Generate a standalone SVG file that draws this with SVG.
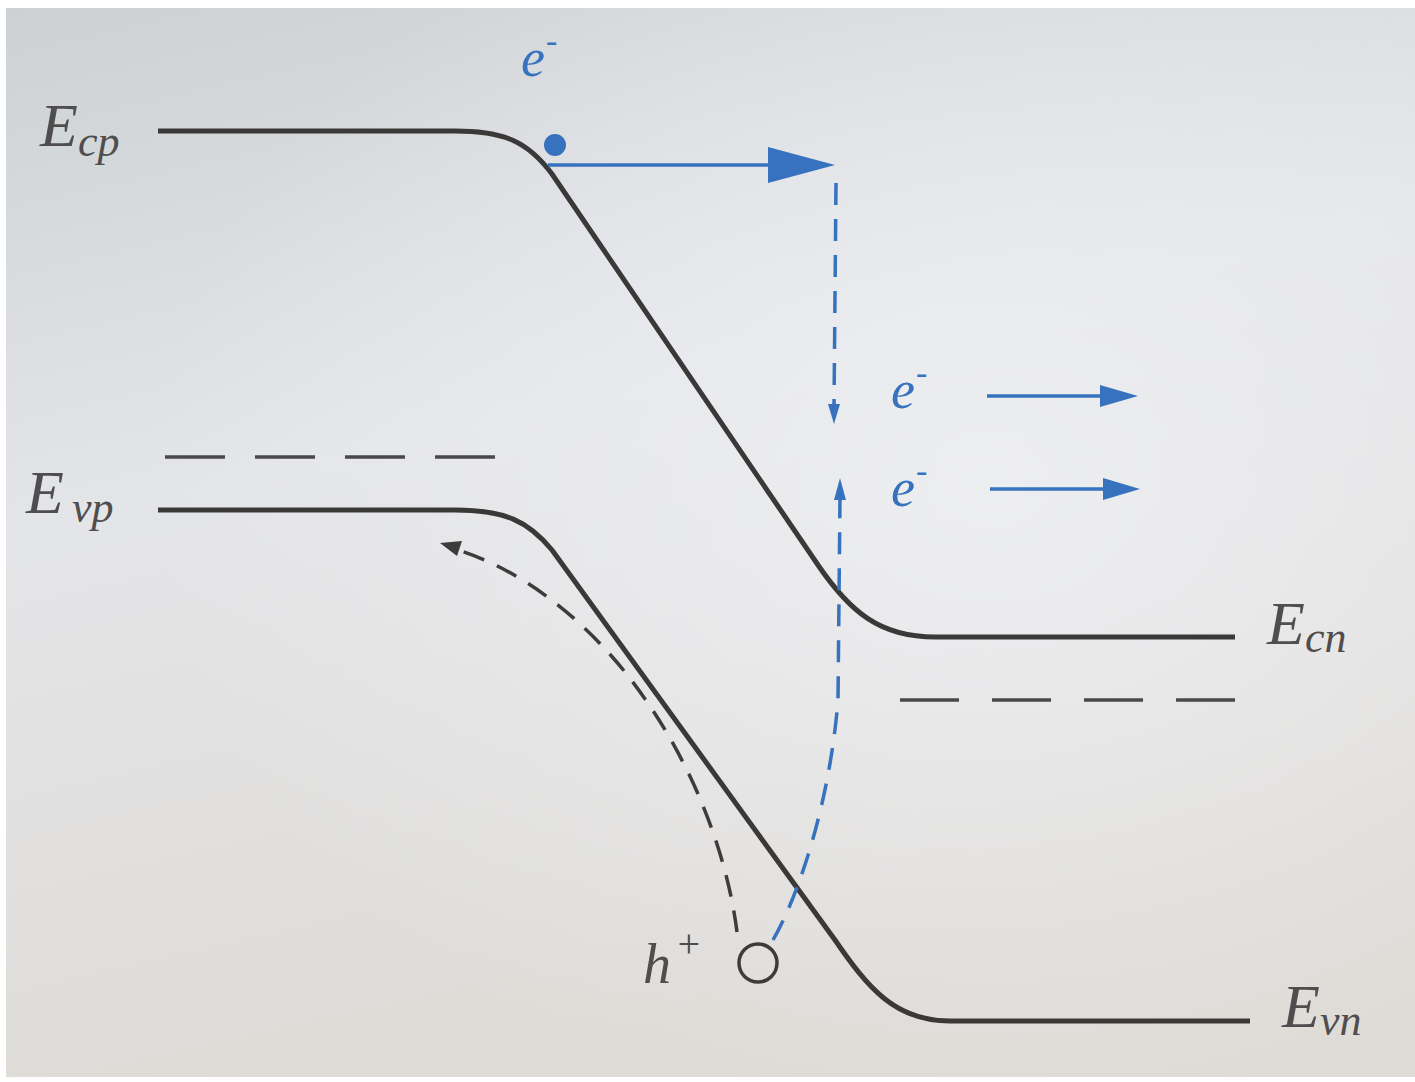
<svg xmlns="http://www.w3.org/2000/svg" width="1415" height="1082" viewBox="0 0 1415 1082">
<style>
.band{fill:none;stroke:#3b3838;stroke-width:5;stroke-linecap:butt}
.ref{fill:none;stroke:#4a4848;stroke-width:3.5}
.bl{fill:none;stroke:#3672bd;stroke-width:3.5}
.bld{fill:none;stroke:#3672bd;stroke-width:3.5;stroke-dasharray:22 14}
.kd{fill:none;stroke:#3d3b3b;stroke-width:3.5;stroke-dasharray:22 14}
text{font-family:"Liberation Serif","DejaVu Serif",serif;font-style:italic}
.lbl{fill:#4f4d4d}
.blt{fill:#3672bd}
.bf{fill:#3672bd}
</style>
<defs>
<linearGradient id="bg" x1="0" y1="0" x2="0.3" y2="1">
<stop offset="0" stop-color="#cdd1d4"/>
<stop offset="0.45" stop-color="#e4e5e8"/>
<stop offset="1" stop-color="#dedbd6"/>
</linearGradient>
<radialGradient id="glow" cx="0.7" cy="0.45" r="0.6">
<stop offset="0" stop-color="#eeeff2" stop-opacity="0.9"/>
<stop offset="1" stop-color="#eeeff2" stop-opacity="0"/>
</radialGradient>
</defs>
<rect width="1415" height="1082" fill="#ffffff"/>
<rect x="6" y="8" width="1409" height="1069" fill="url(#bg)"/>
<rect x="6" y="8" width="1409" height="1069" fill="url(#glow)"/>

<g id="Ecp">
<path class="band" d="M158,131 H455 C505,131 528,142 552,174 L818,565 C850,612 880,637 935,637 H1235"/>
<text class="lbl" x="40" y="146" font-size="62">E<tspan font-size="44" dy="10">cp</tspan></text>
</g>
<g id="Ecn">
<text class="lbl" x="1267" y="644" font-size="62">E<tspan font-size="44" dy="8">cn</tspan></text>
</g>
<g id="Evp">
<path class="band" d="M158,510 H455 C505,510 528,521 552,550 L835,940 C868,988 895,1021 950,1021 H1250"/>
<text class="lbl" x="26" y="513" font-size="62">E<tspan font-size="44" dx="8" dy="9">vp</tspan></text>
</g>
<g id="Evn">
<text class="lbl" x="1282" y="1027" font-size="62">E<tspan font-size="44" dy="8">vn</tspan></text>
</g>
<g id="fermi-p">
<path class="ref" d="M165,457 H495" stroke-dasharray="60 30"/>
</g>
<g id="fermi-n">
<path class="ref" d="M900,700 H1235" stroke-dasharray="59 33"/>
</g>
<g id="electron-in">
<circle class="bf" cx="555" cy="145" r="11"/>
<text class="blt" x="521" y="76" font-size="54">e<tspan font-size="34" dx="1" dy="-24">-</tspan></text>
</g>
<g id="electron-out-1">
<text class="blt" x="891" y="408" font-size="54">e<tspan font-size="34" dx="1" dy="-24">-</tspan></text>
</g>
<g id="electron-out-2">
<text class="blt" x="891" y="506" font-size="54">e<tspan font-size="34" dx="1" dy="-24">-</tspan></text>
</g>
<g id="hole">
<circle cx="758" cy="963" r="19" fill="none" stroke="#3d3b3b" stroke-width="3.5"/>
<text class="lbl" x="643" y="983" font-size="56">h<tspan font-size="40" dx="4" dy="-26">+</tspan></text>
</g>

<g id="connectors">
<path class="bl" d="M548,165 H775"/>
<polygon class="bf" points="768,147 835,165 768,183"/>
<path class="bld" d="M836,183 L834,408"/>
<polygon class="bf" points="828,404 840,404 834,424"/>
<path class="bl" d="M987,396 H1106"/>
<polygon class="bf" points="1100,385 1138,396 1100,407"/>
<path class="bl" d="M990,489 H1108"/>
<polygon class="bf" points="1103,478 1140,489 1103,500"/>
<path class="bld" d="M773,940 C800,893 830,800 838,700 L840,498"/>
<polygon class="bf" points="834,500 846,500 840,478"/>
<path class="kd" d="M737,932 C728,860 695,760 625,672 C575,610 515,568 458,550"/>
<polygon fill="#3d3b3b" points="440,543 462,541 457,556"/>
</g>
</svg>
